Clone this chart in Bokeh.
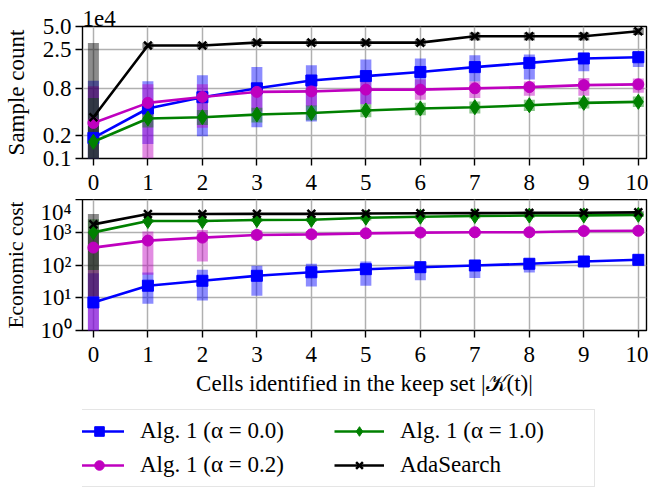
from bokeh.plotting import figure
from bokeh.layouts import column
from bokeh.models import Range1d, FixedTicker, Legend, LegendItem, CustomJSTickFormatter, ColumnDataSource
from bokeh.embed import file_html
from bokeh.resources import INLINE

# ---------------- data ----------------
cells = [0, 1, 2, 3, 4, 5, 6, 7, 8, 9, 10]

# Sample count (in units of 1e4)
a00_cnt    = [0.184, 0.44, 0.615, 0.80, 1.01, 1.15, 1.30, 1.50, 1.70, 1.94, 2.01]
a00_cnt_lo = [0.01, 0.154, 0.194, 0.253, 0.30, 0.50, 0.75, 0.98, 1.04, 1.33, 1.50]
a00_cnt_hi = [1.00, 0.985, 1.18, 1.50, 1.59, 1.88, 1.94, 2.14, 2.18, 2.18, 2.40]

a02_cnt    = [0.287, 0.52, 0.62, 0.72, 0.73, 0.77, 0.77, 0.80, 0.83, 0.88, 0.90]
a02_cnt_lo = [0.01, 0.10, 0.248, 0.406, 0.47, 0.50, 0.57, 0.60, 0.64, 0.64, 0.70]
a02_cnt_hi = [0.85, 0.90, 0.90, 0.94, 0.94, 0.98, 1.04, 0.98, 0.98, 1.09, 1.07]

a10_cnt    = [0.164, 0.327, 0.34, 0.368, 0.386, 0.415, 0.44, 0.457, 0.485, 0.52, 0.536]
a10_cnt_lo = [0.01, 0.25, 0.27, 0.29, 0.31, 0.34, 0.36, 0.38, 0.41, 0.44, 0.46]
a10_cnt_hi = [0.60, 0.45, 0.42, 0.45, 0.48, 0.50, 0.52, 0.54, 0.57, 0.61, 0.63]

ada_cnt    = [0.34, 2.85, 2.85, 3.10, 3.10, 3.10, 3.10, 3.75, 3.75, 3.75, 4.35]
ada_cnt_lo = [0.01, 2.60, 2.60, 2.80, 2.80, 2.80, 2.80, 3.30, 3.30, 3.30, 3.90]
ada_cnt_hi = [3.07, 3.10, 3.10, 3.40, 3.40, 3.40, 3.40, 4.20, 4.20, 4.20, 4.80]

# Economic cost
a00_cost    = [7.2, 23.3, 33, 46.8, 60, 74.5, 85.7, 96.6, 109, 128, 144]
a00_cost_lo = [0.1, 6.6, 8.3, 11.5, 22, 23.4, 34, 40, 59, 90, 100]
a00_cost_hi = [56, 59, 71, 95, 109, 128, 113, 128, 144, 170, 170]

a02_cost    = [340, 556, 686, 828, 863, 927, 977, 1000, 1000, 1090, 1110]
a02_cost_lo = [0.1, 50, 128, 600, 650, 700, 750, 800, 800, 880, 900]
a02_cost_hi = [1000, 1050, 1175, 1150, 1100, 1150, 1200, 1200, 1200, 1300, 1300]

a10_cost    = [990, 2200, 2200, 2360, 2400, 2780, 2980, 3130, 3230, 3270, 3400]
a10_cost_lo = [70, 1900, 1900, 2050, 2100, 2300, 2500, 2650, 2750, 2800, 2900]
a10_cost_hi = [2500, 2500, 2500, 2650, 2700, 3200, 3400, 3550, 3650, 3700, 3850]

ada_cost    = [1740, 3600, 3600, 3650, 3650, 3750, 3800, 3850, 3900, 3950, 4050]
ada_cost_lo = [11, 3300, 3300, 3350, 3350, 3450, 3500, 3550, 3600, 3650, 3750]
ada_cost_hi = [3600, 3900, 3900, 3950, 3950, 4050, 4100, 4150, 4200, 4250, 4350]

labels = ["Alg. 1 (α = 0.0)", "Alg. 1 (α = 0.2)", "Alg. 1 (α = 1.0)", "AdaSearch"]
colors = ["#0000ff", "#bf00bf", "#008000", "#000000"]
markers = ["square", "circle", "diamond", "x"]
msizes = [11, 11, 15, 11]

cnt_ticks = [0.1, 0.2, 0.8, 2.5, 5.0]
cost_ticks = [1, 10, 100, 1000, 10000]

FONT = "Liberation Serif"
FS = "23px"

XR = Range1d(-0.2, 10.15)


def style(p):
    p.outline_line_color = "black"
    p.outline_line_width = 1.4
    for ax in p.axis:
        ax.axis_line_color = None
        ax.major_tick_line_color = "black"
        ax.major_tick_line_width = 1.4
        ax.major_tick_in = 0
        ax.major_tick_out = 7
        ax.minor_tick_line_color = None
        ax.major_label_text_font = FONT
        ax.major_label_text_font_size = FS
        ax.major_label_text_color = "black"
        ax.axis_label_text_font = FONT
        ax.axis_label_text_font_size = FS
        ax.axis_label_text_font_style = "normal"
        ax.axis_label_text_color = "black"
    p.xaxis.ticker = FixedTicker(ticks=cells)
    p.xaxis.major_label_standoff = 9
    p.yaxis.major_label_standoff = 4
    for g in p.grid:
        g.grid_line_color = "#b0b0b0"
        g.grid_line_width = 1.5


def draw(p, series):
    for (m, lo, hi), c in zip(series, colors):
        p.segment(x0=cells, y0=lo, x1=cells, y1=hi, line_width=11, line_alpha=0.45,
                  line_color=c, line_cap="butt")
    for (m, lo, hi), c, mk, ms in zip(series, colors, markers, msizes):
        p.line(cells, m, line_color=c, line_width=2.6)
        p.scatter(cells, m, marker=mk, size=ms, fill_color=c, line_color=c,
                  line_width=2.5 if mk == "x" else 1)


# ---------------- top panel ----------------
p1 = figure(width=648, height=199, x_range=XR, y_range=Range1d(0.1, 5.0),
            y_axis_type="log", output_backend="svg", toolbar_location=None,
            min_border_left=78, min_border_right=2, min_border_top=26, min_border_bottom=41,
            title="1e4")
style(p1)
p1.title.text_font = FONT
p1.title.text_font_size = FS
p1.title.text_font_style = "normal"
p1.title.text_color = "black"
p1.title.align = "left"
p1.title.standoff = 2
p1.title.offset = 0
p1.yaxis.ticker = FixedTicker(ticks=cnt_ticks)
p1.yaxis.formatter = CustomJSTickFormatter(code="return tick.toFixed(1);")
p1.yaxis.axis_label = "Sample count"
p1.yaxis.axis_label_standoff = 11
draw(p1, [(a00_cnt, a00_cnt_lo, a00_cnt_hi), (a02_cnt, a02_cnt_lo, a02_cnt_hi),
          (a10_cnt, a10_cnt_lo, a10_cnt_hi), (ada_cnt, ada_cnt_lo, ada_cnt_hi)])

# ---------------- bottom panel ----------------
p2 = figure(width=648, height=206, x_range=XR, y_range=Range1d(1, 10000),
            y_axis_type="log", output_backend="svg", toolbar_location=None, title=None,
            min_border_left=78, min_border_right=2, min_border_top=0, min_border_bottom=75)
style(p2)
p2.yaxis.ticker = FixedTicker(ticks=cost_ticks)
p2.yaxis.formatter = CustomJSTickFormatter(
    code="const s = ['\u2070','\u00b9','\u00b2','\u00b3','\u2074']; return '10' + s[Math.round(Math.log10(tick))];")
p2.yaxis.axis_label = "Economic cost"
p2.yaxis.axis_label_text_font_size = "21.5px"
p2.yaxis.axis_label_standoff = 9
p2.xaxis.axis_label = "Cells identified in the keep set |𝒦(t)|"
p2.xaxis.axis_label_standoff = 6
draw(p2, [(a00_cost, a00_cost_lo, a00_cost_hi), (a02_cost, a02_cost_lo, a02_cost_hi),
          (a10_cost, a10_cost_lo, a10_cost_hi), (ada_cost, ada_cost_lo, ada_cost_hi)])

# ---------------- legend ----------------
p3 = figure(width=648, height=82, x_range=Range1d(0, 1), y_range=Range1d(0, 1),
            x_axis_location=None, y_axis_location=None, output_backend="svg", title=None,
            toolbar_location=None, min_border=0, min_border_left=78, outline_line_color=None)
p3.grid.visible = False
items = []
for lab, c, mk, ms in zip(labels, colors, markers, msizes):
    src = ColumnDataSource(dict(x=[5, 6], y=[5, 6]))
    r1 = p3.line("x", "y", source=src, line_color=c, line_width=2.6)
    r2 = p3.scatter("x", "y", source=src, marker=mk, size=ms, fill_color=c, line_color=c,
                    line_width=2.5 if mk == "x" else 1)
    items.append(LegendItem(label=lab, renderers=[r1, r2]))
leg = Legend(items=items, location=(-17, 0), ncols=2,
             label_text_font=FONT, label_text_font_size=FS, label_text_color="black",
             glyph_width=50, glyph_height=24, label_standoff=16, label_width=186,
             spacing=8, padding=8, margin=0,
             border_line_color="#cccccc", border_line_width=1.5,
             background_fill_alpha=0.9)
p3.add_layout(leg)

layout = column(p1, p2, p3, spacing=0)
open("out.html", "w").write(file_html(layout, INLINE))
